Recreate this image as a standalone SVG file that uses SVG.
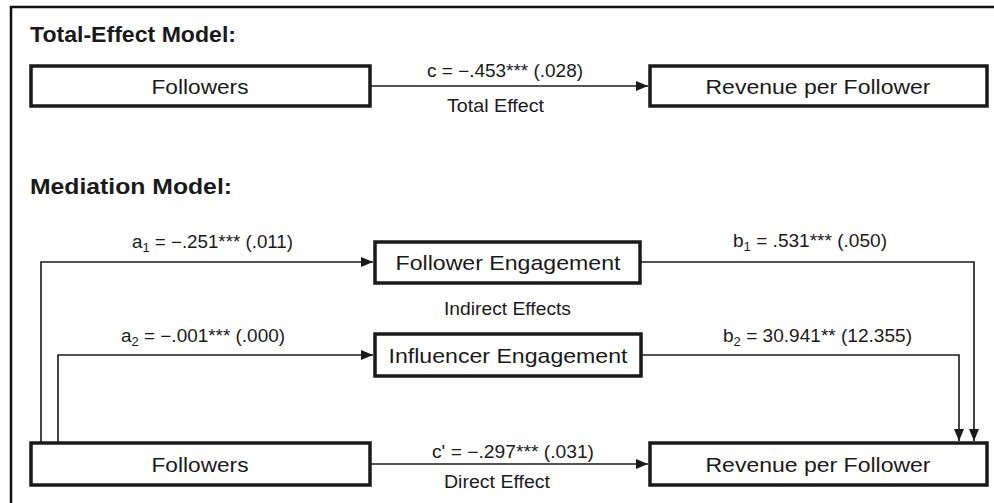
<svg xmlns="http://www.w3.org/2000/svg" width="994" height="503" viewBox="0 0 994 503">
<style>
.frame{fill:none;stroke:#111;stroke-width:2.5}
.box{fill:#fff;stroke:#1a1a1a;stroke-width:3.5}
.conn{fill:none;stroke:#1a1a1a;stroke-width:1.6}
.head{font-family:"Liberation Sans",Arial,sans-serif;font-weight:bold;font-size:21.5px;fill:#1a1a1a}
.node{font-family:"Liberation Sans",Arial,sans-serif;font-size:21px;fill:#1a1a1a;text-anchor:middle}
.lbl{font-family:"Liberation Sans",Arial,sans-serif;font-size:17.5px;fill:#1a1a1a}
.sub{font-size:12px}
</style>
<defs>
<marker id="arr" viewBox="0 0 12 10" refX="12" refY="5" markerWidth="12" markerHeight="10" markerUnits="userSpaceOnUse" orient="auto">
<path d="M0,0 L12,5 L0,10 Z" fill="#1a1a1a"/>
</marker>
</defs>
<rect width="994" height="503" fill="#fff"/>
<path class="frame" d="M11,503 V7 H994"/>
<text class="head" x="30" y="42" textLength="206" lengthAdjust="spacingAndGlyphs">Total-Effect Model:</text>
<text class="head" x="30" y="194" textLength="202" lengthAdjust="spacingAndGlyphs">Mediation Model:</text>
<g id="connectors">
<line class="conn" x1="370" y1="86" x2="648" y2="86" marker-end="url(#arr)"/>
<path class="conn" d="M41,442 V262 H373" marker-end="url(#arr)"/>
<path class="conn" d="M58,442 V355 H373" marker-end="url(#arr)"/>
<path class="conn" d="M640,262 H974 V441" marker-end="url(#arr)"/>
<path class="conn" d="M641,355 H959 V441" marker-end="url(#arr)"/>
<line class="conn" x1="370" y1="464" x2="648" y2="464" marker-end="url(#arr)"/>
<text class="lbl" x="427" y="77" textLength="156" lengthAdjust="spacingAndGlyphs">c = −.453*** (.028)</text>
<text class="lbl" x="447" y="112" textLength="97" lengthAdjust="spacingAndGlyphs">Total Effect</text>
<text class="lbl" x="132" y="248" textLength="161" lengthAdjust="spacingAndGlyphs">a<tspan class="sub" dy="4">1</tspan><tspan dy="-4"> = −.251*** (.011)</tspan></text>
<text class="lbl" x="121" y="342" textLength="164" lengthAdjust="spacingAndGlyphs">a<tspan class="sub" dy="4">2</tspan><tspan dy="-4"> = −.001*** (.000)</tspan></text>
<text class="lbl" x="733" y="247" textLength="154" lengthAdjust="spacingAndGlyphs">b<tspan class="sub" dy="4">1</tspan><tspan dy="-4"> = .531*** (.050)</tspan></text>
<text class="lbl" x="723" y="342" textLength="189" lengthAdjust="spacingAndGlyphs">b<tspan class="sub" dy="4">2</tspan><tspan dy="-4"> = 30.941** (12.355)</tspan></text>
<text class="lbl" x="444" y="315" textLength="127" lengthAdjust="spacingAndGlyphs">Indirect Effects</text>
<text class="lbl" x="432" y="458" textLength="162" lengthAdjust="spacingAndGlyphs">c' = −.297*** (.031)</text>
<text class="lbl" x="444" y="488" textLength="106" lengthAdjust="spacingAndGlyphs">Direct Effect</text>
</g>
<g id="followers-total">
<rect class="box" x="31" y="66" width="339" height="40"/>
<text class="node" x="200" y="93.5" textLength="97" lengthAdjust="spacingAndGlyphs">Followers</text>
</g>
<g id="revenue-total">
<rect class="box" x="650" y="66" width="337" height="40"/>
<text class="node" x="818" y="93.5" textLength="225" lengthAdjust="spacingAndGlyphs">Revenue per Follower</text>
</g>
<g id="follower-engagement">
<rect class="box" x="375" y="242" width="265" height="41"/>
<text class="node" x="508" y="270" textLength="225" lengthAdjust="spacingAndGlyphs">Follower Engagement</text>
</g>
<g id="influencer-engagement">
<rect class="box" x="375" y="334" width="266" height="42"/>
<text class="node" x="508" y="363" textLength="239" lengthAdjust="spacingAndGlyphs">Influencer Engagement</text>
</g>
<g id="followers-mediation">
<rect class="box" x="31" y="443" width="339" height="42"/>
<text class="node" x="200" y="471.5" textLength="97" lengthAdjust="spacingAndGlyphs">Followers</text>
</g>
<g id="revenue-mediation">
<rect class="box" x="650" y="443" width="337" height="42"/>
<text class="node" x="818" y="471.5" textLength="225" lengthAdjust="spacingAndGlyphs">Revenue per Follower</text>
</g>
</svg>
